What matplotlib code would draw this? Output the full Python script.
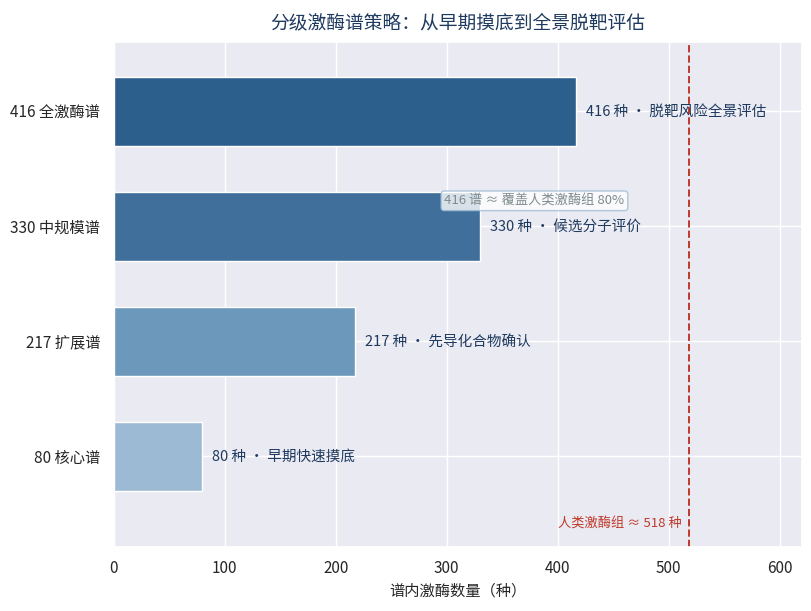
import matplotlib
matplotlib.use("Agg")
import matplotlib.pyplot as plt
import seaborn as sns

sns.set_theme(style="darkgrid")
plt.rcParams['font.family'] = ['Noto Sans CJK SC', 'DejaVu Sans']

categories = ["80 核心谱", "217 扩展谱", "330 中规模谱", "416 全激酶谱"]
values = [80, 217, 330, 416]
notes = ["早期快速摸底", "先导化合物确认", "候选分子评价", "脱靶风险全景评估"]
colors = ["#9dbad5", "#6b98bb", "#3f6f9a", "#2c5f8c"]
human_kinome = 518

fig, ax = plt.subplots(figsize=(8.11, 6.11), dpi=100)
fig.subplots_adjust(left=0.1400, right=0.989, top=0.931, bottom=0.105)

ypos = list(range(len(categories)))
ax.barh(ypos, values, height=0.6, color=colors, edgecolor="white", linewidth=1)
ax.set_yticks(ypos)
ax.set_yticklabels(categories, fontsize=11)
ax.tick_params(axis='x', labelsize=11)

for y, v, n in zip(ypos, values, notes):
    ax.text(v + 9, y - 0.01, f"{v} 种 · {n}", va="center", ha="left", fontsize=10.5, color="#1f3a5f")

ax.axvline(human_kinome, color="#c0392b", linestyle="--", linewidth=1.4)
ax.text(human_kinome - 6, -0.59, f"人类激酶组 ≈ {human_kinome} 种", ha="right", va="center",
        fontsize=9.5, color="#c0392b")

ax.text(379, 2.22, "416 谱 ≈ 覆盖人类激酶组 80%", ha="center", va="center", fontsize=9.5,
        color="#7f8c8d",
        bbox=dict(boxstyle="round,pad=0.25", facecolor="white", edgecolor="#9dbad5", alpha=0.8))

ax.set_xlim(0, 620)
ax.set_ylim(-0.79, 3.6)
ax.set_xlabel("谱内激酶数量（种）", fontsize=11)
ax.set_title("分级激酶谱策略：从早期摸底到全景脱靶评估", fontsize=13.5, color="#1f3a5f", pad=10)

fig.savefig("out.png", dpi=100)
